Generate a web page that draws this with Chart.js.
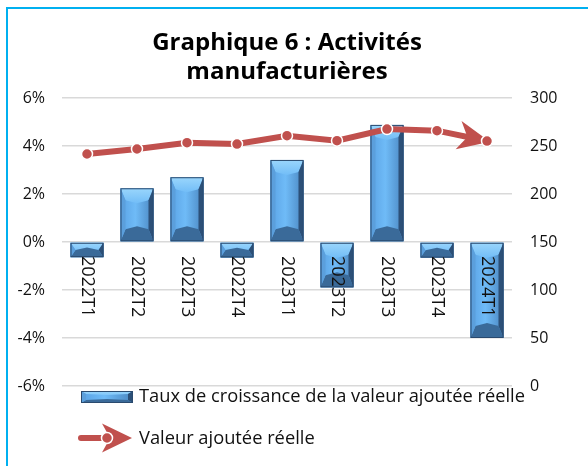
<!DOCTYPE html>
<html>
<head>
<meta charset="utf-8">
<script src="https://cdn.jsdelivr.net/npm/chart.js@4.4.1/dist/chart.umd.min.js"></script>
<style>
  html, body { margin: 0; padding: 0; background: #fff; }
  body { width: 588px; height: 466px; position: relative; overflow: hidden; }
  .frame { position: absolute; left: 6px; top: 7px; width: 640px; height: 520px;
           border-left: 2.5px solid #00b0f0; border-top: 2.5px solid #00b0f0; }
  #chart { position: absolute; left: 0; top: 0; }
</style>
</head>
<body>
<div class="frame"></div>
<canvas id="chart" width="588" height="466"></canvas>
<script>
const categories = ['2022T1', '2022T2', '2022T3', '2022T4', '2023T1', '2023T2', '2023T3', '2023T4', '2024T1'];
const growthRates = [-0.63, 2.24, 2.7, -0.64, 3.42, -1.89, 4.88, -0.65, -4.0];
const valueAdded = [241.7, 246.9, 253.5, 252.1, 260.8, 255.6, 267.7, 266.0, 255.2];

const FONT = "'Open Sans', sans-serif";
const RED = '#c0504d';
const TEXT = '#111';

Chart.defaults.font.family = FONT;
Chart.defaults.color = TEXT;

function poly(ctx, pts, fill) {
    ctx.beginPath();
    ctx.moveTo(pts[0][0], pts[0][1]);
    for (let i = 1; i < pts.length; i++) ctx.lineTo(pts[i][0], pts[i][1]);
    ctx.closePath();
    ctx.fillStyle = fill;
    ctx.fill();
}

// bar with a bevel look, like the office 3d bars
function drawBevelBar(ctx, x0, y0, x1, y1, s, d) {
    const w = x1 - x0, h = y1 - y0;
    s = Math.min(s, w / 2);
    d = Math.min(d, h / 2);
    const ix0 = x0 + s, ix1 = x1 - s, iy0 = y0 + d, iy1 = y1 - d;
    const cx = (x0 + x1) / 2;

    const face = ctx.createLinearGradient(x0, 0, x1, 0);
    face.addColorStop(0, '#5aa2e4');
    face.addColorStop(0.45, '#6fbbf7');
    face.addColorStop(1, '#4a86c0');
    ctx.fillStyle = face;
    ctx.fillRect(x0, y0, w, h);

    const topG = ctx.createLinearGradient(0, y0, 0, iy0 + 3);
    topG.addColorStop(0, '#9ad6fc');
    topG.addColorStop(1, '#72bdf7');
    poly(ctx, [[x0, y0], [x1, y0], [ix1, iy0], [cx, iy0 + Math.min(3, d / 3)], [ix0, iy0]], topG);
    poly(ctx, [[x1, y0], [x1, y1], [ix1, iy1], [ix1, iy0]], '#2c5078');
    poly(ctx, [[x0, y1], [x1, y1], [ix1, iy1], [cx, iy1 - Math.min(3, d / 3)], [ix0, iy1]], '#3a6a99');
    poly(ctx, [[x0, y0], [x0, y1], [ix0, iy1], [ix0, iy0]], '#5b9fdc');

    ctx.strokeStyle = '#2a4a6e';
    ctx.lineWidth = 1;
    ctx.strokeRect(x0 + 0.5, y0 + 0.5, w - 1, h - 1);
}

function drawArrow(ctx, tx, ty, ux, uy, len, half, notch) {
    const nx = -uy, ny = ux;
    const bx = tx - ux * len, by = ty - uy * len;
    ctx.beginPath();
    ctx.moveTo(tx, ty);
    ctx.lineTo(bx + nx * half, by + ny * half);
    ctx.lineTo(tx - ux * (len - notch), ty - uy * (len - notch));
    ctx.lineTo(bx - nx * half, by - ny * half);
    ctx.closePath();
    ctx.fillStyle = RED;
    ctx.fill();
}

function drawMarker(ctx, x, y) {
    ctx.beginPath();
    ctx.arc(x, y, 5.5, 0, Math.PI * 2);
    ctx.fillStyle = RED;
    ctx.fill();
    ctx.lineWidth = 1.5;
    ctx.strokeStyle = '#fff';
    ctx.stroke();
}

const bevelBars = {
    id: 'bevelBars',
    afterDatasetDraw(chart, args) {
        if (args.index !== 0) return;
        const ctx = chart.ctx;
        ctx.save();
        args.meta.data.forEach(el => {
            const p = el.getProps(['x', 'y', 'base', 'width'], true);
            const top = Math.min(p.y, p.base), bottom = Math.max(p.y, p.base);
            drawBevelBar(ctx, p.x - p.width / 2, top, p.x + p.width / 2, bottom, 5, 12);
        });
        ctx.restore();
    }
};

const lineArrow = {
    id: 'lineArrow',
    beforeDatasetDraw(chart, args) {
        if (args.index !== 1) return;
        const pts = args.meta.data;
        const a = pts[pts.length - 2], b = pts[pts.length - 1];
        const dx = b.x - a.x, dy = b.y - a.y;
        const l = Math.hypot(dx, dy);
        const ctx = chart.ctx;
        ctx.save();
        drawArrow(ctx, b.x + dx / l * 3, b.y + dy / l * 3, dx / l, dy / l, 32, 14.5, 9);
        ctx.restore();
    }
};

const categoryLabels = {
    id: 'categoryLabels',
    afterDatasetsDraw(chart) {
        const ctx = chart.ctx;
        const xs = chart.scales.x, ys = chart.scales.y;
        const y0 = ys.getPixelForValue(0) + 14;
        ctx.save();
        ctx.font = `18px ${FONT}`;
        ctx.fillStyle = TEXT;
        ctx.textAlign = 'left';
        ctx.textBaseline = 'middle';
        categories.forEach((c, i) => {
            ctx.save();
            ctx.translate(xs.getPixelForValue(i), y0);
            ctx.rotate(Math.PI / 2);
            ctx.fillText(c, 0, 0);
            ctx.restore();
        });
        ctx.restore();
    }
};

const bottomLegend = {
    id: 'bottomLegend',
    afterDraw(chart) {
        const ctx = chart.ctx;
        const area = chart.chartArea;
        const ds = chart.data.datasets;
        const x = area.left + 19;
        ctx.save();
        ctx.font = `18.3px ${FONT}`;
        ctx.textAlign = 'left';
        ctx.textBaseline = 'middle';

        let y = area.bottom + 11;
        drawBevelBar(ctx, x, y - 6, x + 52, y + 6, 5, 3);
        ctx.fillStyle = TEXT;
        ctx.fillText(ds[0].label, x + 58, y);

        y = area.bottom + 52;
        ctx.strokeStyle = RED;
        ctx.lineWidth = 6;
        ctx.lineCap = 'round';
        ctx.beginPath();
        ctx.moveTo(x, y);
        ctx.lineTo(x + 40, y);
        ctx.stroke();
        drawArrow(ctx, x + 51, y, 1, 0, 30, 14.5, 8);
        drawMarker(ctx, x + 26, y);
        ctx.fillStyle = TEXT;
        ctx.fillText(ds[1].label, x + 58, y + 1);
        ctx.restore();
    }
};

const ctx = document.getElementById('chart').getContext('2d');
const chart = new Chart(ctx, {
    type: 'bar',
    data: {
        labels: categories,
        datasets: [{
            type: 'bar',
            label: 'Taux de croissance de la valeur ajoutée réelle',
            data: growthRates,
            yAxisID: 'y',
            backgroundColor: '#6ab4f2',
            borderWidth: 0,
            barPercentage: 0.66,
            categoryPercentage: 1,
            order: 2
        }, {
            type: 'line',
            label: 'Valeur ajoutée réelle',
            data: valueAdded,
            yAxisID: 'y1',
            borderColor: RED,
            borderWidth: 6,
            pointRadius: 5.5,
            pointBackgroundColor: RED,
            pointBorderColor: '#fff',
            pointBorderWidth: 1.5,
            tension: 0,
            order: 1
        }]
    },
    options: {
        responsive: false,
        animation: false,
        layout: { padding: { top: 14, left: 0, right: 0, bottom: 80 } },
        plugins: {
            legend: { display: false },
            tooltip: { enabled: false },
            title: {
                display: true,
                fullSize: false,
                text: ['Graphique 6 : Activités', 'manufacturières'],
                color: '#000',
                font: { size: 24, weight: 'bold', lineHeight: 1.23 },
                padding: { top: 14, bottom: 11 }
            }
        },
        scales: {
            x: { display: false },
            y: {
                position: 'left',
                min: -6,
                max: 6,
                ticks: { stepSize: 2, padding: 17, font: { size: 16 }, callback: v => v + '%' },
                grid: { color: '#d9d9d9', lineWidth: 1.5, drawTicks: false },
                border: { display: false },
                afterFit: s => { s.width = 62; s.paddingTop = 0; s.paddingBottom = 0; }
            },
            y1: {
                position: 'right',
                min: 0,
                max: 300,
                ticks: { stepSize: 50, padding: 18, font: { size: 16 } },
                grid: { drawOnChartArea: false, drawTicks: false },
                border: { display: false },
                afterFit: s => { s.width = 76; s.paddingTop = 0; s.paddingBottom = 0; }
            }
        }
    },
    plugins: [bevelBars, lineArrow, categoryLabels, bottomLegend]
});
</script>
</body>
</html>
